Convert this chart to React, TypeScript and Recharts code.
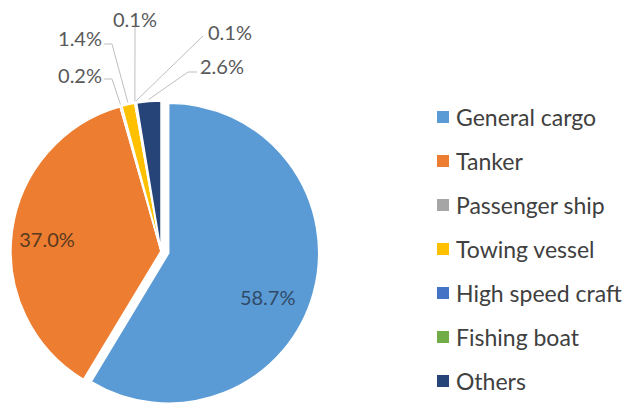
import { PieChart, Pie, Cell, Legend } from "recharts";

const shipTypes = [
  "General cargo",
  "Tanker",
  "Passenger ship",
  "Towing vessel",
  "High speed craft",
  "Fishing boat",
  "Others",
];
const shares = [58.7, 37.0, 0.2, 1.4, 0.1, 0.1, 2.6];
const shareLabels = ["58.7%", "37.0%", "0.2%", "1.4%", "0.1%", "0.1%", "2.6%"];
const colors = ["#5b9bd5", "#ed7d31", "#a5a5a5", "#ffc000", "#4472c4", "#70ad47", "#264478"];

const data = shipTypes.map((name, i) => ({ name, value: shares[i] }));

// label placement relative to the pie centre; leader = [elbow, end] for outside labels
type LabelPos = {
  dx: number;
  dy: number;
  anchor: "start" | "middle" | "end";
  leader?: [number, number][];
};
const labelLayout: LabelPos[] = [
  { dx: 99, dy: 44, anchor: "middle" },
  { dx: -114, dy: -12, anchor: "middle" },
  { dx: -59, dy: -176, anchor: "end", leader: [[-49, -172], [-57, -172]] },
  { dx: -59, dy: -213, anchor: "end", leader: [[-49, -207], [-57, -207]] },
  { dx: -26, dy: -232, anchor: "middle", leader: [[-26, -224]] },
  { dx: 47, dy: -219, anchor: "start", leader: [[42, -215]] },
  { dx: 39, dy: -185, anchor: "start", leader: [[27, -179], [36, -179]] },
];
const insideColors = ["#2f4a66", "#5a3a1e"];

const CX = 161;
const CY = 251;
const R = 150;

// General cargo is pulled out along its middle angle
const total = shares.reduce((a, b) => a + b, 0);
const cargoMid = (shares[0] / total) * Math.PI;
const EXPLODE = 8;
const exDx = EXPLODE * Math.sin(cargoMid);
const exDy = -EXPLODE * Math.cos(cargoMid);

const RAD = Math.PI / 180;

function makeLabel(only: (i: number) => boolean) {
  return (props: any) => {
    const { cx, cy, midAngle, outerRadius, index } = props;
    if (!only(index)) return <g key={`l-${index}`} />;
    const pos = labelLayout[index];
    const tx = cx + pos.dx;
    const ty = cy + pos.dy;
    let path = "";
    if (pos.leader) {
      const sx = cx + (outerRadius + 2) * Math.cos(-midAngle * RAD);
      const sy = cy + (outerRadius + 2) * Math.sin(-midAngle * RAD);
      path = `M${sx},${sy}` + pos.leader.map(([x, y]) => ` L${cx + x},${cy + y}`).join("");
    }
    return (
      <g key={`l-${index}`}>
        {path && <path d={path} stroke="#bfbfbf" strokeWidth={1} fill="none" />}
        <text
          x={tx}
          y={ty}
          textAnchor={pos.anchor}
          dominantBaseline="central"
          fontFamily="Lato, sans-serif"
          fontSize={20}
          fill={index < 2 ? insideColors[index] : "#595959"}
        >
          {shareLabels[index]}
        </text>
      </g>
    );
  };
}

function renderLegend() {
  return (
    <div style={{ fontFamily: "Lato, sans-serif", fontSize: 23, color: "#404040" }}>
      {shipTypes.map((name, i) => (
        <div key={name} style={{ display: "flex", alignItems: "center", height: 44 }}>
          <span
            style={{
              display: "inline-block",
              width: 12,
              height: 12,
              background: colors[i],
              marginRight: 7,
            }}
          />
          <span>{name}</span>
        </div>
      ))}
    </div>
  );
}

export default function App() {
  return (
    <div style={{ position: "absolute", left: 0, top: 0, width: 624, height: 410, background: "#fff" }}>
      <PieChart width={624} height={410} margin={{ top: 0, right: 0, bottom: 0, left: 0 }}>
        <Pie
          data={data}
          dataKey="value"
          nameKey="name"
          cx={CX}
          cy={CY}
          outerRadius={R}
          startAngle={90}
          endAngle={-270}
          isAnimationActive={false}
          labelLine={false}
          label={makeLabel((i) => i > 0)}
        >
          {data.map((d, i) => (
            <Cell
              key={`a-${i}`}
              fill={i === 0 ? "none" : colors[i]}
              stroke={i === 0 ? "none" : "#fff"}
              strokeWidth={1.5}
            />
          ))}
        </Pie>
        <Pie
          data={data}
          dataKey="value"
          nameKey="name"
          cx={CX + exDx}
          cy={CY + exDy}
          outerRadius={R}
          startAngle={90}
          endAngle={-270}
          isAnimationActive={false}
          legendType="none"
          labelLine={false}
          label={makeLabel((i) => i === 0)}
        >
          {data.map((d, i) => (
            <Cell
              key={`b-${i}`}
              fill={i === 0 ? colors[0] : "none"}
              stroke={i === 0 ? "#fff" : "none"}
              strokeWidth={1.5}
            />
          ))}
        </Pie>
        <Legend
          layout="vertical"
          align="right"
          verticalAlign="top"
          content={renderLegend}
          wrapperStyle={{ left: 437, top: 95, width: 187 }}
        />
      </PieChart>
    </div>
  );
}
